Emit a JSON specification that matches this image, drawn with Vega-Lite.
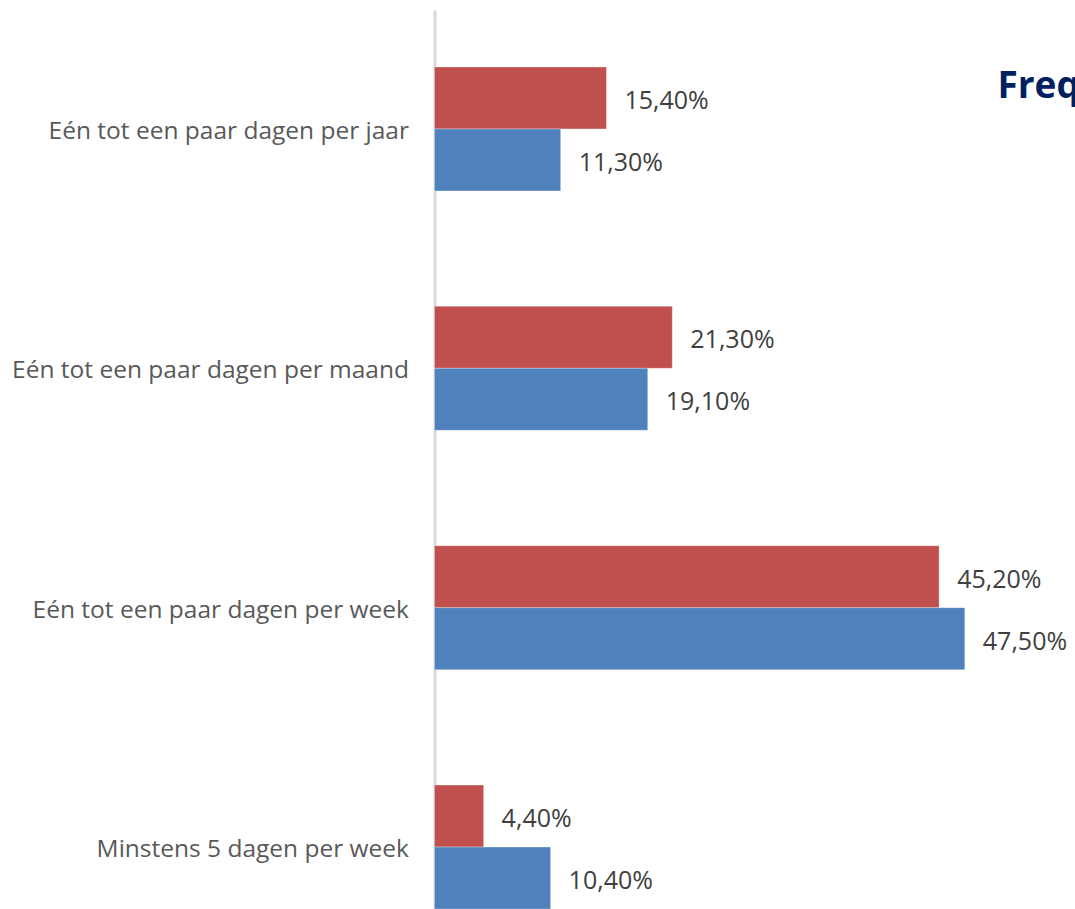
{
  "$schema": "https://vega.github.io/schema/vega-lite/v6.json",
  "autosize": "none",
  "width": 700,
  "height": 956,
  "padding": {"left": 434.5, "top": 10, "right": 0, "bottom": 0},
  "background": "white",
  "title": {
    "text": "Frequentie",
    "anchor": "start",
    "frame": "group",
    "orient": "top",
    "baseline": "alphabetic",
    "dx": 563,
    "dy": 129,
    "font": "Open Sans",
    "fontSize": 37,
    "fontWeight": "bold",
    "color": "#002060"
  },
  "data": {
    "values": [
      {"categorie": "Eén tot een paar dagen per jaar", "reeks": "A", "waarde": 0.154},
      {"categorie": "Eén tot een paar dagen per jaar", "reeks": "B", "waarde": 0.113},
      {"categorie": "Eén tot een paar dagen per maand", "reeks": "A", "waarde": 0.213},
      {"categorie": "Eén tot een paar dagen per maand", "reeks": "B", "waarde": 0.191},
      {"categorie": "Eén tot een paar dagen per week", "reeks": "A", "waarde": 0.452},
      {"categorie": "Eén tot een paar dagen per week", "reeks": "B", "waarde": 0.475},
      {"categorie": "Minstens 5 dagen per week", "reeks": "A", "waarde": 0.044},
      {"categorie": "Minstens 5 dagen per week", "reeks": "B", "waarde": 0.104}
    ]
  },
  "encoding": {
    "y": {
      "field": "categorie",
      "type": "nominal",
      "sort": null,
      "scale": {"paddingInner": 0.4823, "paddingOuter": 0.238},
      "axis": {
        "title": null,
        "ticks": false,
        "domainColor": "#d9d9d9",
        "domainWidth": 3,
        "labelFont": "Open Sans",
        "labelFontSize": 24.5,
        "labelColor": "#595959",
        "labelPadding": 26,
        "labelOffset": 3,
        "labelLimit": 600
      }
    },
    "yOffset": {"field": "reeks", "type": "nominal", "sort": ["A", "B"]},
    "x": {
      "field": "waarde",
      "type": "quantitative",
      "scale": {"domain": [0, 0.627], "nice": false},
      "axis": null
    }
  },
  "layer": [
    {
      "mark": {"type": "bar", "stroke": "white", "strokeWidth": 0.5, "strokeOpacity": 0.6},
      "encoding": {
        "color": {
          "field": "reeks",
          "type": "nominal",
          "scale": {"domain": ["A", "B"], "range": ["#C0504D", "#4F81BD"]},
          "legend": null
        }
      }
    },
    {
      "mark": {"type": "text", "align": "left", "baseline": "middle", "dx": 18, "dy": 3, "font": "Open Sans", "fontSize": 25, "color": "#404040"},
      "encoding": {
        "text": {"field": "waarde", "type": "quantitative", "format": ".2%"}
      }
    }
  ],
  "config": {
    "view": {"stroke": null},
    "locale": {
      "number": {"decimal": ",", "thousands": ".", "grouping": [3], "currency": ["€", ""]}
    }
  }
}
